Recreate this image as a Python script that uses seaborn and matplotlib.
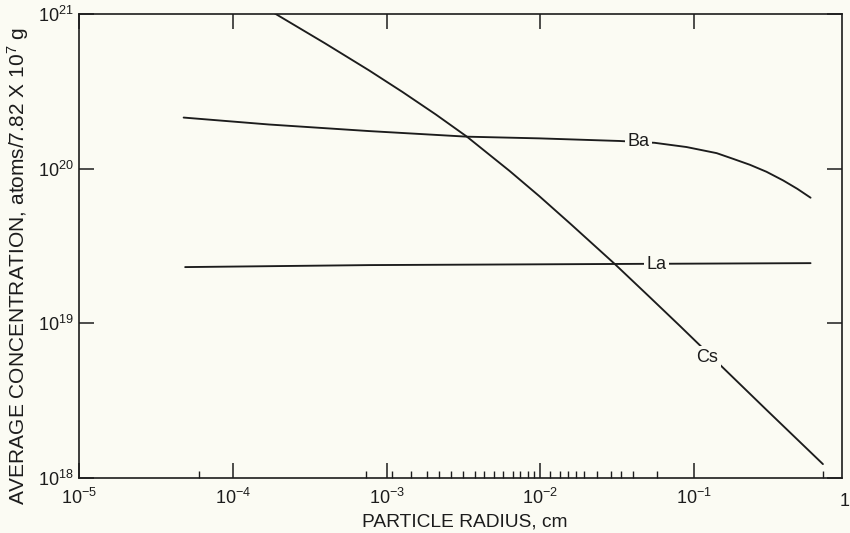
import numpy as np
import pandas as pd
import matplotlib
matplotlib.use("Agg")
import matplotlib.pyplot as plt
import seaborn as sns
from matplotlib.ticker import FixedLocator, NullFormatter, NullLocator

# ---------------- data ----------------
cs_radius = [1.78e-4, 3.98e-4, 7.69e-4, 1.27e-3, 2.09e-3, 3.33e-3, 4.86e-3, 6.31e-3,
             9.84e-3, 1.58e-2, 3.03e-2, 5.13e-2, 8.04e-2, 0.296, 0.687]
cs_conc = [1.04e21, 6.46e20, 4.32e20, 3.13e20, 2.24e20, 1.61e20, 1.19e20, 9.66e19,
           6.64e19, 4.37e19, 2.43e19, 1.48e19, 9.66e18, 2.75e18, 1.23e18]

ba_radius = [4.79e-5, 1.72e-4, 7.69e-4, 3.33e-3, 9.84e-3, 3.27e-2, 5.52e-2, 8.91e-2,
             0.140, 0.178, 0.230, 0.295, 0.379, 0.468, 0.571]
ba_conc = [2.14e20, 1.93e20, 1.75e20, 1.61e20, 1.57e20, 1.51e20, 1.47e20, 1.38e20,
           1.26e20, 1.16e20, 1.06e20, 9.55e19, 8.39e19, 7.41e19, 6.49e19]

la_radius = [4.9e-5, 7.76e-4, 5.0e-3, 3.03e-2, 0.571]
la_conc = [2.31e19, 2.38e19, 2.40e19, 2.42e19, 2.45e19]

# curve labels: (text, radius, concentration)
curve_labels = [("Ba", 4.36e-2, 1.50e20), ("La", 5.69e-2, 2.40e19), ("Cs", 0.122, 6.05e18)]

x_major = [1e-5, 1e-4, 1e-3, 1e-2, 1e-1]
x_major_labels = ["$10^{-5}$", "$10^{-4}$", "$10^{-3}$", "$10^{-2}$", "$10^{-1}$"]
x_minor = [6.0e-5, 7.33e-4, 1.09e-3, 1.44e-3, 1.82e-3, 2.20e-3, 2.64e-3, 3.16e-3,
           3.78e-3, 4.28e-3, 5.01e-3, 5.68e-3, 6.61e-3, 7.38e-3, 8.36e-3, 9.14e-3,
           1.16e-2, 1.35e-2, 1.51e-2, 1.71e-2, 1.91e-2, 2.33e-2, 2.89e-2, 3.36e-2,
           3.99e-2, 5.73e-2, 0.687]
y_major = [1e18, 1e19, 1e20, 1e21]
y_major_labels = ["$10^{18}$", "$10^{19}$", "$10^{20}$", "$10^{21}$"]

xlabel = "PARTICLE RADIUS, cm"
ylabel = "AVERAGE CONCENTRATION, atoms/7.82 X 10$^{7}$ g"

# ---------------- style ----------------
bg = "#fbfbf3"
ink = "#1c1c1c"
sns.set_style("ticks")
plt.rcParams["font.family"] = ["Liberation Sans", "DejaVu Sans"]
plt.rcParams["mathtext.default"] = "regular"

W, H = 850, 533
fig = plt.figure(figsize=(W / 100, H / 100), dpi=100, facecolor=bg)
L, R, T, B = 79, 842, 14, 478
ax = fig.add_axes([L / W, 1 - B / H, (R - L) / W, (B - T) / H])
ax.set_facecolor(bg)
ax.set_xscale("log")
ax.set_yscale("log")

frames = []
for name, xs, ys in [("Cs", cs_radius, cs_conc), ("Ba", ba_radius, ba_conc), ("La", la_radius, la_conc)]:
    frames.append(pd.DataFrame({"radius": xs, "conc": ys, "element": name}))
df = pd.concat(frames, ignore_index=True)

for name in ["Cs", "Ba", "La"]:
    sub = df[df["element"] == name]
    sns.lineplot(data=sub, x="radius", y="conc", ax=ax, color=ink, lw=1.35,
                 sort=False, estimator=None)

ax.set_xlim(1e-5, 10 ** -0.039)
ax.set_ylim(1e18, 1e21)

for txt, xv, yv in curve_labels:
    ax.text(xv, yv, txt, ha="center", va="center", fontsize=13, color=ink,
            bbox=dict(boxstyle="square,pad=0.15", fc=bg, ec="none"), zorder=5)

ax.xaxis.set_major_locator(FixedLocator(x_major))
ax.set_xticklabels(x_major_labels)
ax.xaxis.set_minor_locator(FixedLocator(x_minor))
ax.xaxis.set_minor_formatter(NullFormatter())
ax.yaxis.set_major_locator(FixedLocator(y_major))
ax.set_yticklabels(y_major_labels)
ax.yaxis.set_minor_locator(NullLocator())

ax.tick_params(axis="x", which="major", direction="in", length=11, width=1.1,
               top=True, bottom=True, pad=7, labelsize=13, colors=ink)
ax.tick_params(axis="x", which="minor", direction="in", length=5, width=1.0,
               top=False, bottom=True, colors=ink)
ax.tick_params(axis="y", which="major", direction="in", length=11, width=1.1,
               left=True, right=True, pad=4, labelsize=13, colors=ink)

for sp in ax.spines.values():
    sp.set_color(ink)
    sp.set_linewidth(1.2)
    sp.set_visible(True)

ax.annotate("1", xy=(1.0, 0), xycoords=("data", "axes fraction"),
            xytext=(-2.5, -11), textcoords="offset points", ha="center", va="top",
            fontsize=13, color=ink, annotation_clip=False)

ax.set_xlabel("")
ax.set_ylabel("")
fig.text(465 / W, 1 - 522 / H, xlabel, ha="center", va="center", fontsize=13.8, color=ink)
fig.text(18 / W, 1 - 266 / H, ylabel, ha="center", va="center", rotation=90,
         fontsize=15, color=ink)

fig.savefig("out.png", dpi=100, facecolor=bg)
